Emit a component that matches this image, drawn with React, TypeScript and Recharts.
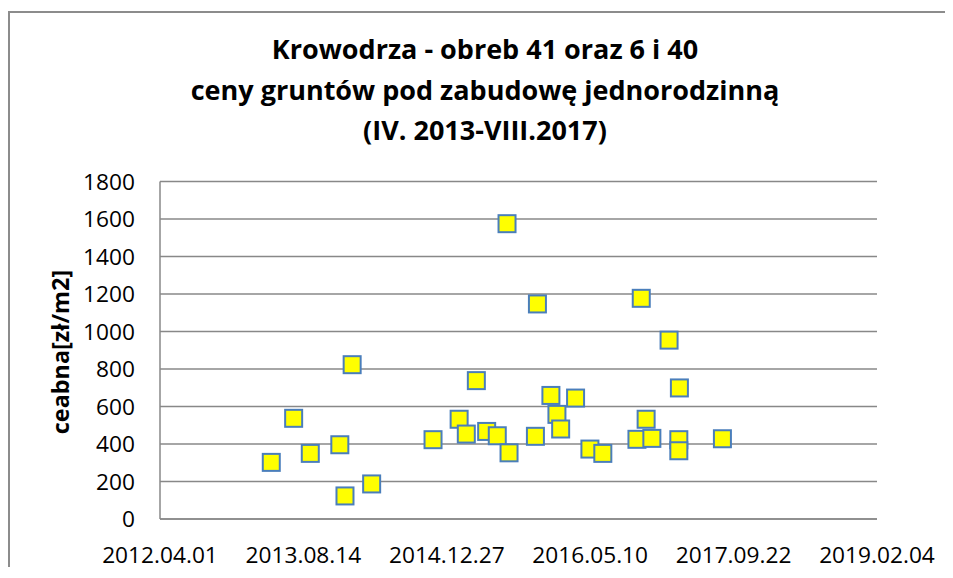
import React from 'react';
import { ScatterChart, Scatter, XAxis, YAxis, CartesianGrid } from 'recharts';

const chartTitle = [
  'Krowodrza - obreb 41 oraz 6 i 40',
  'ceny gruntów pod zabudowę jednorodzinną',
  '(IV. 2013-VIII.2017)',
];
const yAxisTitle = 'ceabna[zł/m2]';

const saleDates = [
  '2013-04-24', '2013-07-11', '2013-09-07', '2013-12-19', '2014-01-06', '2014-01-31',
  '2014-04-09', '2014-11-09', '2015-02-08', '2015-03-05', '2015-04-09', '2015-05-15',
  '2015-06-21', '2015-07-25', '2015-08-01', '2015-11-01', '2015-11-08', '2015-12-25',
  '2016-01-15', '2016-01-28', '2016-03-20', '2016-05-09', '2016-06-23', '2016-10-20',
  '2016-11-04', '2016-11-21', '2016-12-11', '2017-02-09', '2017-03-17', '2017-03-15',
  '2017-03-15', '2017-08-14',
];
const pricesPerM2 = [
  302, 537, 350, 396, 123, 823,
  187, 423, 532, 453, 738, 467,
  444, 1575, 353, 441, 1147, 659,
  558, 480, 645, 373, 350, 425,
  1177, 532, 430, 954, 699, 423,
  364, 428,
];

const xTickLabels = ['2012.04.01', '2013.08.14', '2014.12.27', '2016.05.10', '2017.09.22', '2019.02.04'];
const yTicks = [0, 200, 400, 600, 800, 1000, 1200, 1400, 1600, 1800];

const DAY = 86400000;
const toDay = (s: string) => {
  const [y, m, d] = s.split(/[-.]/).map(Number);
  return Date.UTC(y, m - 1, d) / DAY;
};
const pad = (n: number) => String(n).padStart(2, '0');
const fmtDay = (v: number) => {
  const dt = new Date(Math.round(v) * DAY);
  return `${dt.getUTCFullYear()}.${pad(dt.getUTCMonth() + 1)}.${pad(dt.getUTCDate())}`;
};

const data = saleDates.map((d, i) => ({ x: toDay(d), y: pricesPerM2[i] }));
const xTicks = xTickLabels.map(toDay);

const Marker = (props: any) => {
  const { cx, cy } = props;
  if (cx == null || cy == null) return null;
  return (
    <rect x={cx - 8.5} y={cy - 8.5} width={17} height={17} fill="#ffff00" stroke="#4a7ebb" strokeWidth={2} />
  );
};

const FONT = '"Open Sans", Lato, sans-serif';

export default function App() {
  return (
    <>
      <style>{'html, body { overflow: hidden; }'}</style>
      <div
        style={{
          position: 'relative',
          top: 3,
          width: 942,
          height: 557,
          borderLeft: '2px solid #8c8c8c',
          borderTop: '2px solid #8c8c8c',
          fontFamily: FONT,
          background: '#fff',
        }}
      >
        <div
          style={{
            position: 'absolute',
            left: 20,
            width: 910,
            top: 16.3,
            textAlign: 'center',
            fontWeight: 700,
            fontSize: 27,
            lineHeight: '40.5px',
            color: '#000',
          }}
        >
          {chartTitle.map((t) => (
            <div key={t}>{t}</div>
          ))}
        </div>
        <div
          style={{
            position: 'absolute',
            left: 50,
            top: 339,
            transform: 'translate(-50%, -50%) rotate(-90deg)',
            whiteSpace: 'nowrap',
            fontWeight: 700,
            fontSize: 23.4,
            color: '#000',
          }}
        >
          {yAxisTitle}
        </div>
        <ScatterChart width={942} height={557} margin={{ top: 168.5, right: 75, bottom: 0, left: 0 }}>
          <CartesianGrid vertical={false} stroke="#888888" strokeWidth={1.5} />
          <XAxis
            type="number"
            dataKey="x"
            domain={[xTicks[0], xTicks[xTicks.length - 1]]}
            ticks={xTicks}
            tickFormatter={fmtDay}
            height={51}
            tickLine={false}
            tickSize={0}
            tickMargin={28}
            axisLine={{ stroke: '#888888', strokeWidth: 1.5 }}
            tick={{ fill: '#000', fontSize: 22.7, fontFamily: FONT }}
            allowDataOverflow
          />
          <YAxis
            type="number"
            dataKey="y"
            domain={[0, 1800]}
            ticks={yTicks}
            width={150}
            tickLine={false}
            tickSize={0}
            tickMargin={25}
            axisLine={{ stroke: '#888888', strokeWidth: 1.5 }}
            tick={{ fill: '#000', fontSize: 22.7, fontFamily: FONT }}
          />
          <Scatter data={data} shape={Marker} isAnimationActive={false} />
        </ScatterChart>
      </div>
    </>
  );
}
